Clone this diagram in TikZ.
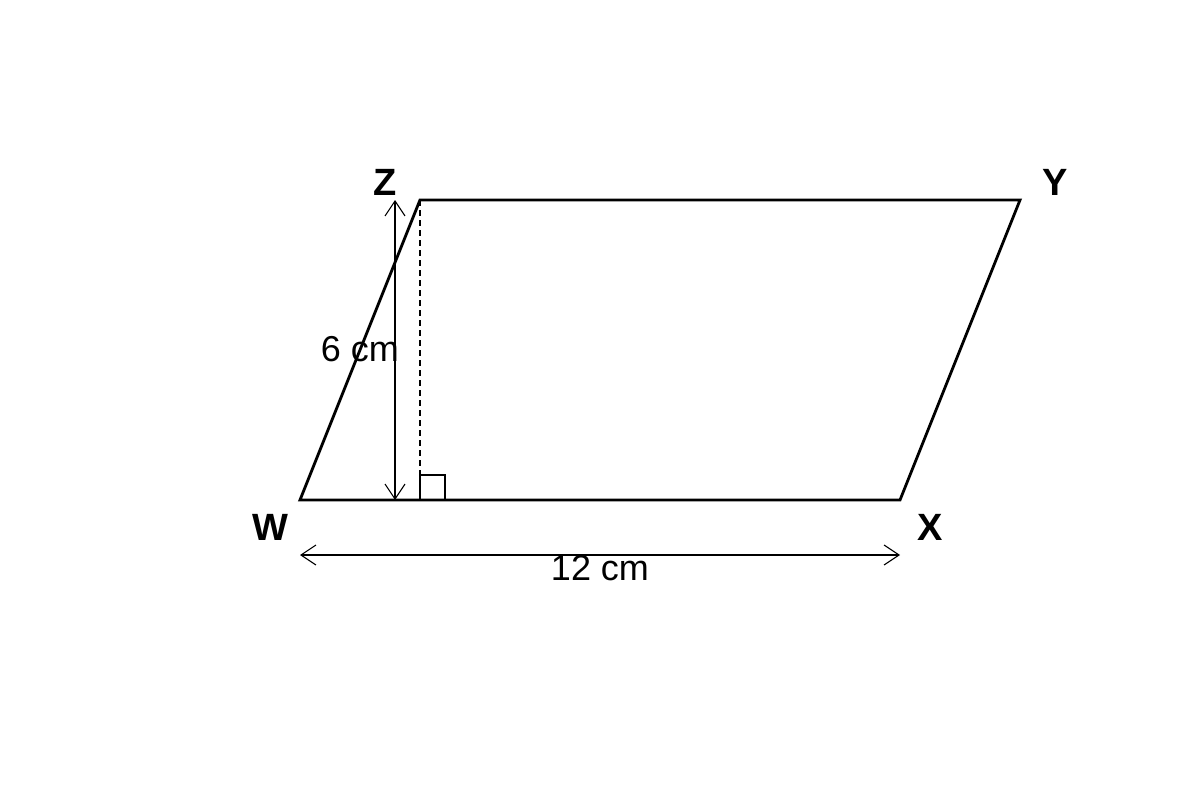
\documentclass[tikz,border=0pt]{standalone}
\usepackage{fontspec}
\setmainfont{Liberation Sans}
\usetikzlibrary{arrows.meta}
\begin{document}
\begin{tikzpicture}[x=1pt,y=-1pt,
  outline/.style={line width=2.8pt,line join=miter},
  dim/.style={line width=1.1pt,{Straight Barb[length=15pt,width=20pt,line width=1.1pt]}-{Straight Barb[length=15pt,width=20pt,line width=1.1pt]}},
  vlabel/.style={font=\fontsize{38}{42}\selectfont\bfseries,inner sep=0pt},
  mlabel/.style={font=\fontsize{36}{40}\selectfont,inner sep=0pt},
  aux/.style={line width=1.6pt}]
\useasboundingbox (0,0) rectangle (1200,800);
\coordinate (W) at (300,500);
\coordinate (X) at (900,500);
\coordinate (Y) at (1020,200);
\coordinate (Z) at (420,200);
\coordinate (F) at (420,500);
\coordinate (Ht) at (395,200);
\coordinate (Hb) at (395,500);
\coordinate (Bl) at (300,555);
\coordinate (Br) at (900,555);
\draw[outline] (W) -- (X) -- (Y) -- (Z) -- cycle;
\draw[aux,dash pattern=on 6pt off 4pt] (Z) -- (F);
\draw[aux] (420,500) -- (420,475) -- (445,475) -- (445,500);
\draw[dim] (Ht) -- (Hb);
\draw[dim] (Bl) -- (Br);
\node[vlabel] (lZ) at (385,182) {Z};
\node[vlabel] (lY) at (1055,182) {Y};
\node[vlabel] (lW) at (270,527) {W};
\node[vlabel] (lX) at (930,527) {X};
\node[mlabel] (h) at (360,349) {6 cm};
\node[mlabel] (b) at (600,568) {12 cm};
\end{tikzpicture}
\end{document}
